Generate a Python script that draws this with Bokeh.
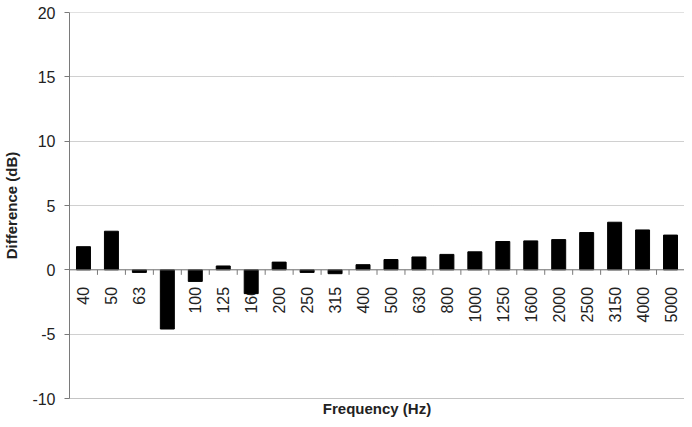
import math
from bokeh.plotting import figure
from bokeh.models import ColumnDataSource, Range1d, FixedTicker, Span, PrintfTickFormatter
from bokeh.core.properties import value
from bokeh.embed import file_html
from bokeh.resources import INLINE

categories = ["40", "50", "63", "80", "100", "125", "160", "200", "250", "315", "400",
              "500", "630", "800", "1000", "1250", "1600", "2000", "2500", "3150", "4000", "5000"]
difference = [1.8, 3.0, -0.2, -4.6, -0.9, 0.3, -1.85, 0.6, -0.2, -0.3, 0.4,
              0.8, 1.0, 1.2, 1.4, 2.2, 2.25, 2.35, 2.9, 3.7, 3.1, 2.7]
y_ticks = [-10, -5, 0, 5, 10, 15, 20]

FONT = "Liberation Sans"
n = len(categories)
idx = list(range(n))

src = ColumnDataSource(dict(x=idx, y=difference, label=categories, zero=[0] * n))
bsrc = ColumnDataSource(dict(xb=[i + 0.5 for i in range(n - 1)], yb=[0] * (n - 1)))

p = figure(width=684, height=419, output_backend="svg", toolbar_location=None,
           x_range=Range1d(-0.5, n - 0.5), y_range=Range1d(y_ticks[0], y_ticks[-1]),
           min_border_top=12, min_border_right=0, min_border_left=68, min_border_bottom=0)
p.outline_line_color = None
p.background_fill_color = "white"
p.border_fill_color = "white"

# grid
p.xgrid.grid_line_color = None
p.ygrid.ticker = FixedTicker(ticks=y_ticks[1:-1])
p.ygrid.grid_line_color = "#a0a0a0"
p.ygrid.grid_line_dash = "1 1"
p.ygrid.grid_line_width = 1
p.add_layout(Span(location=y_ticks[-1], dimension="width", line_color="#c4c4c4", line_width=1))

# y axis
p.yaxis.ticker = FixedTicker(ticks=y_ticks)
p.yaxis.formatter = PrintfTickFormatter(format="%d")
p.yaxis.axis_line_color = "#7a7a7a"
p.yaxis.major_tick_line_color = "#7a7a7a"
p.yaxis.major_tick_in = 0
p.yaxis.major_tick_out = 5
p.yaxis.minor_tick_line_color = None
p.yaxis.minor_tick_in = 0
p.yaxis.minor_tick_out = 0
p.yaxis.major_label_text_font = FONT
p.yaxis.major_label_text_font_size = "16px"
p.yaxis.major_label_text_color = "#222222"
p.yaxis.major_label_standoff = 9
p.yaxis.axis_label = "Difference (dB)"
p.yaxis.axis_label_text_font = FONT
p.yaxis.axis_label_text_font_style = "bold"
p.yaxis.axis_label_text_font_size = "15px"
p.yaxis.axis_label_text_color = "#222222"
p.yaxis.axis_label_standoff = 9

# x axis (bottom line only + title)
p.xaxis.ticker = FixedTicker(ticks=[])
p.xaxis.axis_line_color = "#c4c4c4"
p.xaxis.major_tick_line_color = None
p.xaxis.minor_tick_line_color = None
p.xaxis.major_tick_in = 0
p.xaxis.major_tick_out = 0
p.xaxis.minor_tick_in = 0
p.xaxis.minor_tick_out = 0
p.xaxis.major_label_standoff = 0
p.xaxis.axis_label = "Frequency (Hz)"
p.xaxis.axis_label_text_font = FONT
p.xaxis.axis_label_text_font_style = "bold"
p.xaxis.axis_label_text_font_size = "15px"
p.xaxis.axis_label_text_color = "#222222"
p.xaxis.axis_label_standoff = 1

# category labels (drawn under bars)
p.text(x="x", y="zero", text="label", source=src, angle=math.pi / 2,
       text_align="right", text_baseline="middle", y_offset=17,
       text_font=value(FONT), text_font_size="16px", text_color="#222222")

# category axis line at zero with tick marks
p.add_layout(Span(location=0, dimension="width", line_color="#7a7a7a", line_width=1))
p.ray(x="xb", y="yb", source=bsrc, length=5, length_units="screen",
      angle=-math.pi / 2, line_color="#7a7a7a", line_width=1)

# bars
p.vbar(x="x", top="y", bottom=0, width=0.5, source=src,
       fill_color="black", line_color="black")

open("out.html", "w").write(file_html(p, INLINE))
